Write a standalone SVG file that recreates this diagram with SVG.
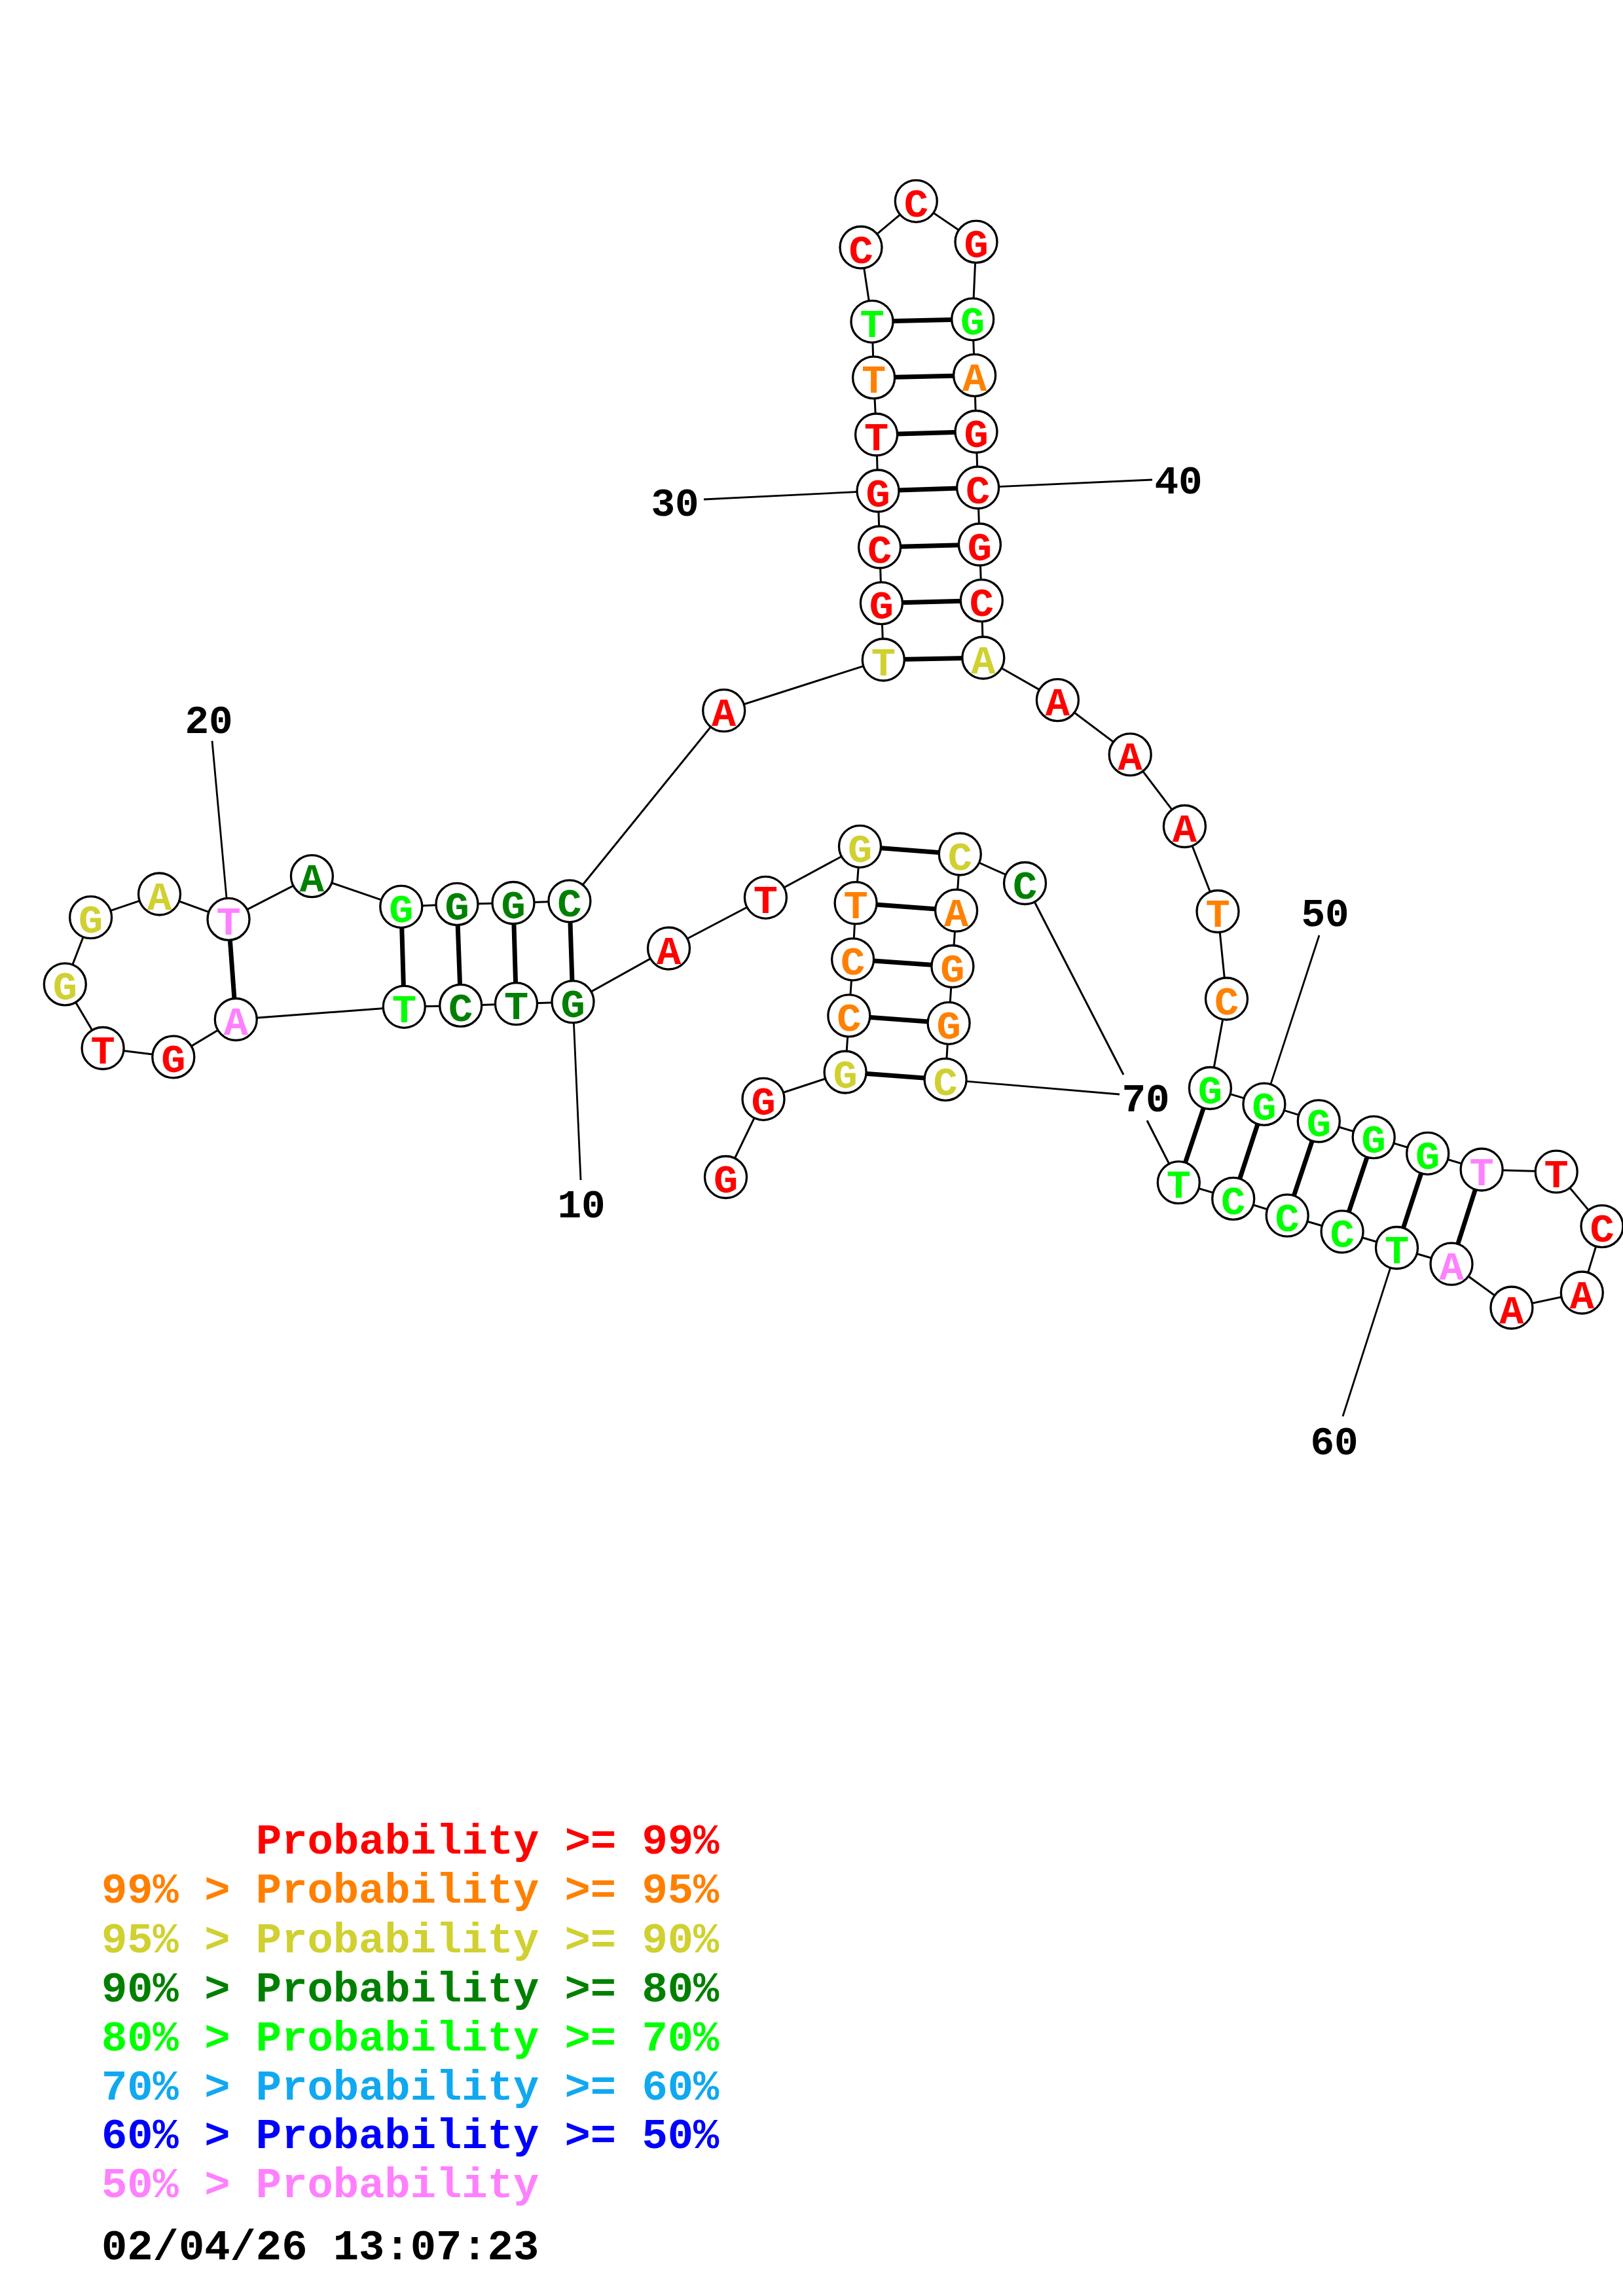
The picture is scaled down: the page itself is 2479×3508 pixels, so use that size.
<svg xmlns="http://www.w3.org/2000/svg" width="2479" height="3508" viewBox="0 0 2479 3508">
<style>
.bb{stroke:#000;stroke-width:3;fill:none}
.pr{stroke:#000;stroke-width:7;fill:none}
.lb{stroke:#000;stroke-width:2.8;fill:none}
.nd circle{fill:#fff;stroke:#000;stroke-width:3.3}
.nd text{font-family:"Liberation Mono",monospace;font-weight:bold;font-size:62px;text-anchor:middle}
.num{font-family:"Liberation Mono",monospace;font-weight:bold;font-size:61px;text-anchor:middle;fill:#000}
.leg{font-family:"Liberation Mono",monospace;font-weight:bold;font-size:65.5px}
.r{fill:#FF0000}.o{fill:#FF8000}.y{fill:#D0D030}.dg{fill:#008000}.g{fill:#00FF00}.lb2{fill:#10A8F0}.b{fill:#0000FF}.p{fill:#FF80FF}.k{fill:#000}
</style>
<rect width="2479" height="3508" fill="#fff"/>
<g id="connectors">
<polyline class="bb" points="1108.5,1798.5 1166,1679.3 1291.1,1638 1296.8,1551.9 1302.6,1465.8 1307.1,1379.7 1313.5,1293.3 1169.4,1371.3 1021.5,1449 875,1530.7 788.5,1533.7 703.7,1536.4 617.3,1538.3 360.3,1557.5 264.8,1614.9 157.1,1601.5 99.3,1503.9 138.6,1401.7 243.5,1366 349,1404.4 476.4,1338.6 612.8,1385.3 698,1381.4 784,1379.5 869.9,1376.8 1105.7,1085.7 1349.3,1008 1346.4,921.6 1343.6,836 1341,750 1338.6,664 1334.6,576.9 1332,491.3 1315,378 1399.3,307.3 1491,369.4 1485.7,487.8 1488.6,573.4 1491,659.5 1493.6,745 1496.4,832 1499.3,917.6 1501.8,1005 1615.4,1069.6 1726.2,1152.9 1809.4,1262.5 1860,1392.5 1873.5,1526 1848.4,1662.5 1930.9,1687.1 2014.3,1712.9 2098.2,1737.6 2180.7,1762.3 2263.1,1787 2377.2,1790.2 2447,1873.6 2416.3,1975 2308.9,1998 2217,1931.2 2133.5,1906.5 2050.1,1881.8 1966.2,1857.2 1883.7,1831.4 1800.3,1806.7 1752,1712"/>
<polyline class="bb" points="1716,1642 1565.5,1349.5 1466.3,1305 1460.6,1391.2 1454.9,1476.5 1449.1,1563.3 1444.1,1649.4"/>
<line class="pr" x1="1291.1" y1="1638" x2="1444.1" y2="1649.4"/>
<line class="pr" x1="1296.8" y1="1551.9" x2="1449.1" y2="1563.3"/>
<line class="pr" x1="1302.6" y1="1465.8" x2="1454.9" y2="1476.5"/>
<line class="pr" x1="1307.1" y1="1379.7" x2="1460.6" y2="1391.2"/>
<line class="pr" x1="1313.5" y1="1293.3" x2="1466.3" y2="1305"/>
<line class="pr" x1="875" y1="1530.7" x2="869.9" y2="1376.8"/>
<line class="pr" x1="788.5" y1="1533.7" x2="784" y2="1379.5"/>
<line class="pr" x1="703.7" y1="1536.4" x2="698" y2="1381.4"/>
<line class="pr" x1="617.3" y1="1538.3" x2="612.8" y2="1385.3"/>
<line class="pr" x1="360.3" y1="1557.5" x2="349" y2="1404.4"/>
<line class="pr" x1="1349.3" y1="1008" x2="1501.8" y2="1005"/>
<line class="pr" x1="1346.4" y1="921.6" x2="1499.3" y2="917.6"/>
<line class="pr" x1="1343.6" y1="836" x2="1496.4" y2="832"/>
<line class="pr" x1="1341" y1="750" x2="1493.6" y2="745"/>
<line class="pr" x1="1338.6" y1="664" x2="1491" y2="659.5"/>
<line class="pr" x1="1334.6" y1="576.9" x2="1488.6" y2="573.4"/>
<line class="pr" x1="1332" y1="491.3" x2="1485.7" y2="487.8"/>
<line class="pr" x1="1848.4" y1="1662.5" x2="1800.3" y2="1806.7"/>
<line class="pr" x1="1930.9" y1="1687.1" x2="1883.7" y2="1831.4"/>
<line class="pr" x1="2014.3" y1="1712.9" x2="1966.2" y2="1857.2"/>
<line class="pr" x1="2098.2" y1="1737.6" x2="2050.1" y2="1881.8"/>
<line class="pr" x1="2180.7" y1="1762.3" x2="2133.5" y2="1906.5"/>
<line class="pr" x1="2263.1" y1="1787" x2="2217" y2="1931.2"/>
<line class="lb" x1="875" y1="1530.7" x2="887" y2="1803"/>
<line class="lb" x1="324" y1="1132" x2="349" y2="1404.4"/>
<line class="lb" x1="1075" y1="763" x2="1341" y2="750"/>
<line class="lb" x1="1493.6" y1="745" x2="1760" y2="733"/>
<line class="lb" x1="2015" y1="1429" x2="1930.9" y2="1687.1"/>
<line class="lb" x1="2133.5" y1="1906.5" x2="2051" y2="2164"/>
<line class="lb" x1="1710" y1="1672" x2="1444.1" y2="1649.4"/>
</g>
<g id="labels">
<text class="num" x="888" y="1860">10</text>
<text class="num" x="319" y="1120">20</text>
<text class="num" x="1031" y="788">30</text>
<text class="num" x="1800" y="754">40</text>
<text class="num" x="2024" y="1415">50</text>
<text class="num" x="2038" y="2222">60</text>
<text class="num" x="1750" y="1698">70</text>
</g>
<g id="nodes" class="nd">
<g id="n1"><circle cx="1108.5" cy="1798.5" r="32"/><text class="r" x="1108.5" y="1822">G</text></g>
<g id="n2"><circle cx="1166" cy="1679.3" r="32"/><text class="r" x="1166" y="1702.8">G</text></g>
<g id="n3"><circle cx="1291.1" cy="1638" r="32"/><text class="y" x="1291.1" y="1661.5">G</text></g>
<g id="n4"><circle cx="1296.8" cy="1551.9" r="32"/><text class="o" x="1296.8" y="1575.4">C</text></g>
<g id="n5"><circle cx="1302.6" cy="1465.8" r="32"/><text class="o" x="1302.6" y="1489.3">C</text></g>
<g id="n6"><circle cx="1307.1" cy="1379.7" r="32"/><text class="o" x="1307.1" y="1403.2">T</text></g>
<g id="n7"><circle cx="1313.5" cy="1293.3" r="32"/><text class="y" x="1313.5" y="1316.8">G</text></g>
<g id="n8"><circle cx="1169.4" cy="1371.3" r="32"/><text class="r" x="1169.4" y="1394.8">T</text></g>
<g id="n9"><circle cx="1021.5" cy="1449" r="32"/><text class="r" x="1021.5" y="1472.5">A</text></g>
<g id="n10"><circle cx="875" cy="1530.7" r="32"/><text class="dg" x="875" y="1554.2">G</text></g>
<g id="n11"><circle cx="788.5" cy="1533.7" r="32"/><text class="dg" x="788.5" y="1557.2">T</text></g>
<g id="n12"><circle cx="703.7" cy="1536.4" r="32"/><text class="dg" x="703.7" y="1559.9">C</text></g>
<g id="n13"><circle cx="617.3" cy="1538.3" r="32"/><text class="g" x="617.3" y="1561.8">T</text></g>
<g id="n14"><circle cx="360.3" cy="1557.5" r="32"/><text class="p" x="360.3" y="1581">A</text></g>
<g id="n15"><circle cx="264.8" cy="1614.9" r="32"/><text class="r" x="264.8" y="1638.4">G</text></g>
<g id="n16"><circle cx="157.1" cy="1601.5" r="32"/><text class="r" x="157.1" y="1625">T</text></g>
<g id="n17"><circle cx="99.3" cy="1503.9" r="32"/><text class="y" x="99.3" y="1527.4">G</text></g>
<g id="n18"><circle cx="138.6" cy="1401.7" r="32"/><text class="y" x="138.6" y="1425.2">G</text></g>
<g id="n19"><circle cx="243.5" cy="1366" r="32"/><text class="y" x="243.5" y="1389.5">A</text></g>
<g id="n20"><circle cx="349" cy="1404.4" r="32"/><text class="p" x="349" y="1427.9">T</text></g>
<g id="n21"><circle cx="476.4" cy="1338.6" r="32"/><text class="dg" x="476.4" y="1362.1">A</text></g>
<g id="n22"><circle cx="612.8" cy="1385.3" r="32"/><text class="g" x="612.8" y="1408.8">G</text></g>
<g id="n23"><circle cx="698" cy="1381.4" r="32"/><text class="dg" x="698" y="1404.9">G</text></g>
<g id="n24"><circle cx="784" cy="1379.5" r="32"/><text class="dg" x="784" y="1403">G</text></g>
<g id="n25"><circle cx="869.9" cy="1376.8" r="32"/><text class="dg" x="869.9" y="1400.3">C</text></g>
<g id="n26"><circle cx="1105.7" cy="1085.7" r="32"/><text class="r" x="1105.7" y="1109.2">A</text></g>
<g id="n27"><circle cx="1349.3" cy="1008" r="32"/><text class="y" x="1349.3" y="1031.5">T</text></g>
<g id="n28"><circle cx="1346.4" cy="921.6" r="32"/><text class="r" x="1346.4" y="945.1">G</text></g>
<g id="n29"><circle cx="1343.6" cy="836" r="32"/><text class="r" x="1343.6" y="859.5">C</text></g>
<g id="n30"><circle cx="1341" cy="750" r="32"/><text class="r" x="1341" y="773.5">G</text></g>
<g id="n31"><circle cx="1338.6" cy="664" r="32"/><text class="r" x="1338.6" y="687.5">T</text></g>
<g id="n32"><circle cx="1334.6" cy="576.9" r="32"/><text class="o" x="1334.6" y="600.4">T</text></g>
<g id="n33"><circle cx="1332" cy="491.3" r="32"/><text class="g" x="1332" y="514.8">T</text></g>
<g id="n34"><circle cx="1315" cy="378" r="32"/><text class="r" x="1315" y="401.5">C</text></g>
<g id="n35"><circle cx="1399.3" cy="307.3" r="32"/><text class="r" x="1399.3" y="330.8">C</text></g>
<g id="n36"><circle cx="1491" cy="369.4" r="32"/><text class="r" x="1491" y="392.9">G</text></g>
<g id="n37"><circle cx="1485.7" cy="487.8" r="32"/><text class="g" x="1485.7" y="511.3">G</text></g>
<g id="n38"><circle cx="1488.6" cy="573.4" r="32"/><text class="o" x="1488.6" y="596.9">A</text></g>
<g id="n39"><circle cx="1491" cy="659.5" r="32"/><text class="r" x="1491" y="683">G</text></g>
<g id="n40"><circle cx="1493.6" cy="745" r="32"/><text class="r" x="1493.6" y="768.5">C</text></g>
<g id="n41"><circle cx="1496.4" cy="832" r="32"/><text class="r" x="1496.4" y="855.5">G</text></g>
<g id="n42"><circle cx="1499.3" cy="917.6" r="32"/><text class="r" x="1499.3" y="941.1">C</text></g>
<g id="n43"><circle cx="1501.8" cy="1005" r="32"/><text class="y" x="1501.8" y="1028.5">A</text></g>
<g id="n44"><circle cx="1615.4" cy="1069.6" r="32"/><text class="r" x="1615.4" y="1093.1">A</text></g>
<g id="n45"><circle cx="1726.2" cy="1152.9" r="32"/><text class="r" x="1726.2" y="1176.4">A</text></g>
<g id="n46"><circle cx="1809.4" cy="1262.5" r="32"/><text class="r" x="1809.4" y="1286">A</text></g>
<g id="n47"><circle cx="1860" cy="1392.5" r="32"/><text class="o" x="1860" y="1416">T</text></g>
<g id="n48"><circle cx="1873.5" cy="1526" r="32"/><text class="o" x="1873.5" y="1549.5">C</text></g>
<g id="n49"><circle cx="1848.4" cy="1662.5" r="32"/><text class="g" x="1848.4" y="1686">G</text></g>
<g id="n50"><circle cx="1930.9" cy="1687.1" r="32"/><text class="g" x="1930.9" y="1710.6">G</text></g>
<g id="n51"><circle cx="2014.3" cy="1712.9" r="32"/><text class="g" x="2014.3" y="1736.4">G</text></g>
<g id="n52"><circle cx="2098.2" cy="1737.6" r="32"/><text class="g" x="2098.2" y="1761.1">G</text></g>
<g id="n53"><circle cx="2180.7" cy="1762.3" r="32"/><text class="g" x="2180.7" y="1785.8">G</text></g>
<g id="n54"><circle cx="2263.1" cy="1787" r="32"/><text class="p" x="2263.1" y="1810.5">T</text></g>
<g id="n55"><circle cx="2377.2" cy="1790.2" r="32"/><text class="r" x="2377.2" y="1813.7">T</text></g>
<g id="n56"><circle cx="2447" cy="1873.6" r="32"/><text class="r" x="2447" y="1897.1">C</text></g>
<g id="n57"><circle cx="2416.3" cy="1975" r="32"/><text class="r" x="2416.3" y="1998.5">A</text></g>
<g id="n58"><circle cx="2308.9" cy="1998" r="32"/><text class="r" x="2308.9" y="2021.5">A</text></g>
<g id="n59"><circle cx="2217" cy="1931.2" r="32"/><text class="p" x="2217" y="1954.7">A</text></g>
<g id="n60"><circle cx="2133.5" cy="1906.5" r="32"/><text class="g" x="2133.5" y="1930">T</text></g>
<g id="n61"><circle cx="2050.1" cy="1881.8" r="32"/><text class="g" x="2050.1" y="1905.3">C</text></g>
<g id="n62"><circle cx="1966.2" cy="1857.2" r="32"/><text class="g" x="1966.2" y="1880.7">C</text></g>
<g id="n63"><circle cx="1883.7" cy="1831.4" r="32"/><text class="g" x="1883.7" y="1854.9">C</text></g>
<g id="n64"><circle cx="1800.3" cy="1806.7" r="32"/><text class="g" x="1800.3" y="1830.2">T</text></g>
<g id="n65"><circle cx="1565.5" cy="1349.5" r="32"/><text class="dg" x="1565.5" y="1373">C</text></g>
<g id="n66"><circle cx="1466.3" cy="1305" r="32"/><text class="y" x="1466.3" y="1328.5">C</text></g>
<g id="n67"><circle cx="1460.6" cy="1391.2" r="32"/><text class="o" x="1460.6" y="1414.7">A</text></g>
<g id="n68"><circle cx="1454.9" cy="1476.5" r="32"/><text class="o" x="1454.9" y="1500">G</text></g>
<g id="n69"><circle cx="1449.1" cy="1563.3" r="32"/><text class="o" x="1449.1" y="1586.8">G</text></g>
<g id="n70"><circle cx="1444.1" cy="1649.4" r="32"/><text class="y" x="1444.1" y="1672.9">C</text></g>
</g>
<g id="legend" class="leg">
<text class="r" x="391" y="2832">Probability &gt;= 99%</text>
<text class="o" x="155" y="2907">99% &gt; Probability &gt;= 95%</text>
<text class="y" x="155" y="2983">95% &gt; Probability &gt;= 90%</text>
<text class="dg" x="155" y="3058">90% &gt; Probability &gt;= 80%</text>
<text class="g" x="155" y="3133">80% &gt; Probability &gt;= 70%</text>
<text class="lb2" x="155" y="3208">70% &gt; Probability &gt;= 60%</text>
<text class="b" x="155" y="3282">60% &gt; Probability &gt;= 50%</text>
<text class="p" x="155" y="3357">50% &gt; Probability</text>
<text class="k" x="155" y="3452">02/04/26 13:07:23</text>
</g>
</svg>
